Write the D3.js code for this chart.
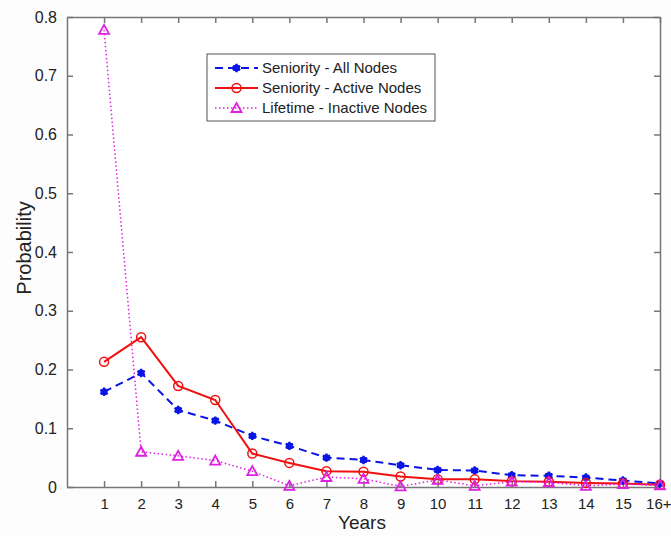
<!DOCTYPE html>
<html><head><meta charset="utf-8">
<script src="https://cdn.jsdelivr.net/npm/d3@7"></script>
<style>body{margin:0;background:#fdfdfd;} text{font-family:"Liberation Sans",Arial,sans-serif;fill:#222;}</style>
</head><body>
<svg id="c" width="671" height="536"></svg>
<script>
const years = [1,2,3,4,5,6,7,8,9,10,11,12,13,14,15,16];
const xTickLabels = ["1","2","3","4","5","6","7","8","9","10","11","12","13","14","15","16+"];
const yTicks = [0,0.1,0.2,0.3,0.4,0.5,0.6,0.7,0.8];
const seniorityAll = [0.162,0.194,0.131,0.113,0.087,0.070,0.050,0.046,0.037,0.029,0.028,0.020,0.019,0.016,0.011,0.006];
const seniorityActive = [0.213,0.255,0.172,0.148,0.057,0.041,0.027,0.026,0.018,0.013,0.013,0.010,0.009,0.007,0.006,0.004];
const lifetimeInactive = [0.778,0.060,0.053,0.045,0.027,0.002,0.017,0.014,0.001,0.012,0.002,0.009,0.008,0.002,0.005,0.003];
const seriesNames = ["Seniority - All Nodes","Seniority - Active Nodes","Lifetime - Inactive Nodes"];

const svg = d3.select("#c");
const L=67,R=660,T=17,B=487;
const x = d3.scaleLinear().domain([0,16]).range([L,R]);
const y = d3.scaleLinear().domain([0,0.8]).range([B,T]);

svg.append("rect").attr("width",671).attr("height",536).attr("fill","#fdfdfd");
svg.append("rect").attr("x",L).attr("y",T).attr("width",R-L).attr("height",B-T).attr("fill","#fff");

const axCol="#777";
const gB=svg.append("g").attr("transform",`translate(0,${B})`)
  .call(d3.axisBottom(x).tickValues(years).tickFormat((d,i)=>xTickLabels[i]).tickSizeInner(-6).tickSizeOuter(0).tickPadding(11));
const gT=svg.append("g").attr("transform",`translate(0,${T})`)
  .call(d3.axisTop(x).tickValues(years).tickFormat("").tickSizeInner(-6).tickSizeOuter(0));
const gL=svg.append("g").attr("transform",`translate(${L},0)`)
  .call(d3.axisLeft(y).tickValues(yTicks).tickFormat(d=>d===0?"0":d3.format(".1f")(d)).tickSizeInner(-6).tickSizeOuter(0).tickPadding(10));
const gR=svg.append("g").attr("transform",`translate(${R},0)`)
  .call(d3.axisRight(y).tickValues(yTicks).tickFormat("").tickSizeInner(-6).tickSizeOuter(0));
[gB,gT,gL,gR].forEach(g=>{
  g.selectAll("path,line").attr("stroke",axCol).attr("stroke-width",1.5);
  g.selectAll("text").style("font-size","15px").attr("fill","#222").style("font-family","'Liberation Sans',Arial,sans-serif");
});
gL.selectAll("text").style("font-size","16px");
gB.selectAll("text").filter((d)=>d===16).attr("text-anchor","end").attr("dx","11");

svg.append("text").attr("x",362).attr("y",529).attr("text-anchor","middle").style("font-size","19px").text("Years");
svg.append("text").attr("transform","translate(31,248) rotate(-90)").attr("text-anchor","middle").style("font-size","20px").text("Probability");

const line = d3.line().x((d,i)=>x(years[i])).y(d=>y(d));
const styles = [
  {data:seniorityAll,color:"#0a14e6",dash:"8,5",w:2,marker:"star"},
  {data:seniorityActive,color:"#f01010",dash:null,w:2,marker:"circle"},
  {data:lifetimeInactive,color:"#e020e0",dash:"1.5,2.5",w:1.5,marker:"tri"}
];
function drawMarker(g,type,cx,cy,color){
  if(type==="star"){
    g.append("path").attr("d",d3.symbol(d3.symbolAsterisk?d3.symbolAsterisk:d3.symbolCross,50)()).attr("transform",`translate(${cx},${cy})`).attr("fill",color).attr("stroke",color).attr("stroke-width",2.2);
    g.append("circle").attr("cx",cx).attr("cy",cy).attr("r",3.5).attr("fill",color);
  } else if(type==="circle"){
    g.append("circle").attr("cx",cx).attr("cy",cy).attr("r",4.5).attr("fill","none").attr("stroke",color).attr("stroke-width",1.5);
  } else {
    g.append("path").attr("d",`M${cx},${cy-5}L${cx+5},${cy+4}L${cx-5},${cy+4}Z`).attr("fill","none").attr("stroke",color).attr("stroke-width",1.8);
  }
}
const plot=svg.append("g");
styles.forEach(s=>{
  plot.append("path").datum(s.data).attr("d",line).attr("fill","none").attr("stroke",s.color).attr("stroke-width",s.w).attr("stroke-dasharray",s.dash);
});
styles.forEach(s=>{
  s.data.forEach((v,i)=>drawMarker(plot,s.marker,x(years[i]),y(v),s.color));
});

// legend
const lg=svg.append("g");
lg.append("rect").attr("x",207).attr("y",54).attr("width",228).attr("height",67).attr("fill","#fff").attr("stroke","#555").attr("stroke-width",1);
styles.forEach((s,i)=>{
  const ly=68+i*20;
  lg.append("line").attr("x1",215).attr("x2",258).attr("y1",ly).attr("y2",ly).attr("stroke",s.color).attr("stroke-width",s.w).attr("stroke-dasharray",s.dash);
  drawMarker(lg,s.marker,236.5,ly,s.color);
  lg.append("text").attr("x",262).attr("y",ly+5).style("font-size","15px").text(seriesNames[i]);
});
</script>
</body></html>
